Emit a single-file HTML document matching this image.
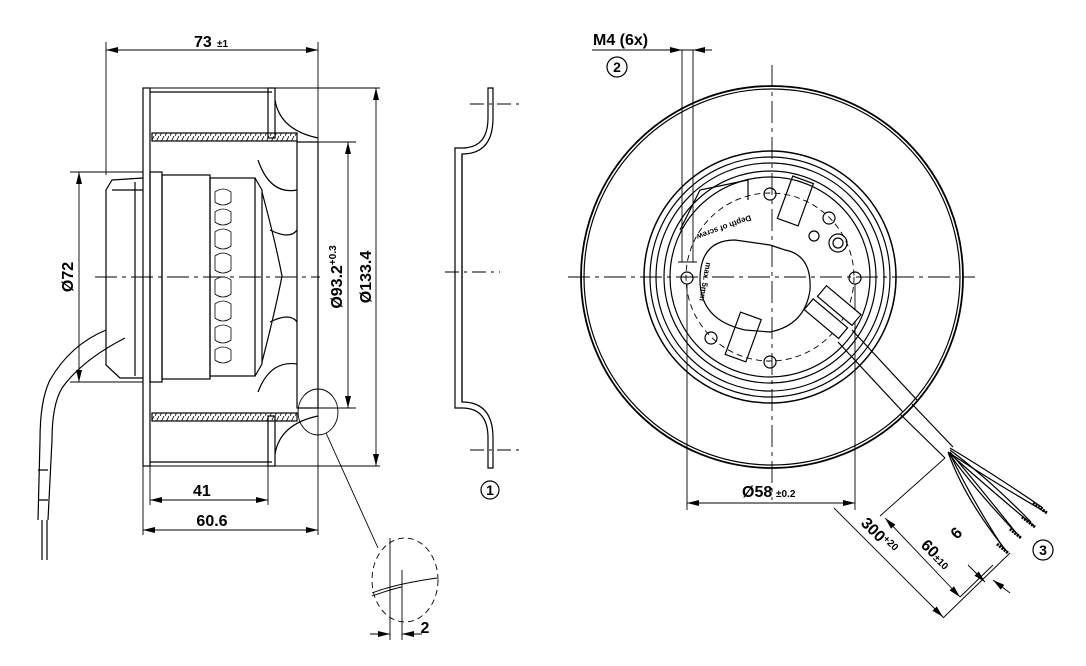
<!DOCTYPE html>
<html><head><meta charset="utf-8"><style>
html,body{margin:0;padding:0;background:#fff}
svg{display:block}
text{font-family:"Liberation Sans",sans-serif;font-weight:bold;fill:#000}
</style></head><body>
<svg width="1086" height="666" viewBox="0 0 1086 666" xmlns="http://www.w3.org/2000/svg">
<defs>
<marker id="a" markerWidth="12" markerHeight="6" refX="12" refY="3" orient="auto-start-reverse" markerUnits="userSpaceOnUse"><path d="M0,0 L12,3 L0,6 z" fill="#000"/></marker>
<pattern id="h" width="5" height="8" patternUnits="userSpaceOnUse"><line x1="0" y1="8" x2="4" y2="0" stroke="#000" stroke-width="0.8"/></pattern>
</defs>
<g stroke="#000" stroke-width="1.2" fill="none">
<!-- LEFT VIEW -->
<line x1="106" y1="42" x2="106" y2="175" stroke-width="0.9"/>
<line x1="318" y1="42" x2="318" y2="535" stroke-width="0.9"/>
<line x1="106" y1="50" x2="318" y2="50" marker-start="url(#a)" marker-end="url(#a)" stroke-width="0.9"/>
<!-- housing -->
<rect x="143" y="88" width="7" height="378"/>
<line x1="150" y1="88" x2="380" y2="88" stroke-width="0.9"/>
<line x1="150" y1="466" x2="380" y2="466" stroke-width="0.9"/>
<line x1="150" y1="92" x2="272" y2="92"/>
<line x1="150" y1="462" x2="272" y2="462"/>
<rect x="268" y="88" width="7" height="50"/>
<rect x="268" y="416" width="7" height="50"/>
<rect x="152" y="133" width="145" height="8" fill="url(#h)"/>
<rect x="152" y="413" width="145" height="8" fill="url(#h)"/>
<path d="M275,100 Q280,130 318,138"/>
<path d="M275,454 Q280,424 318,416"/>
<rect x="297" y="142" width="21" height="266"/>
<line x1="318" y1="142" x2="356" y2="142" stroke-width="0.9"/>
<line x1="318" y1="408" x2="356" y2="408" stroke-width="0.9"/>
<!-- motor -->
<rect x="150" y="172" width="12" height="210"/>
<rect x="162" y="175" width="48" height="204"/>
<rect x="210" y="178" width="45" height="198"/>
<path d="M255,178 L262,190 L262,364 L255,376"/>
<path d="M262,192 Q275,240 282,276 Q275,312 262,362"/>
<path d="M258,160 Q270,195 297,190 M258,392 Q270,360 297,364"/>
<path d="M270,230 Q290,240 297,230 M270,322 Q290,312 297,322"/>
<g stroke-width="0.8">
<path d="M215,192 q8,-6 16,0 v10 q-8,6 -16,0z M215,212 q8,-6 16,0 v10 q-8,6 -16,0z M215,232 q8,-6 16,0 v14 q-8,6 -16,0z M215,256 q8,-6 16,0 v14 q-8,6 -16,0z M215,280 q8,-6 16,0 v14 q-8,6 -16,0z M215,304 q8,-6 16,0 v14 q-8,6 -16,0z M215,328 q8,-6 16,0 v12 q-8,6 -16,0z M215,350 q8,-6 16,0 v10 q-8,6 -16,0z"/>
</g>
<path d="M143,178 L112,180 L106,190 L106,365 L120,378 L143,378"/>
<line x1="112" y1="190" x2="143" y2="190"/>
<line x1="135" y1="182" x2="135" y2="376"/>
<!-- cable left -->
<path d="M106,330 Q70,345 50,380 Q40,400 40,440 L38,520"/>
<path d="M125,338 Q82,360 62,388 Q52,405 52,440 L48,520"/>
<path d="M38,470 L48,470 M38,500 L48,500 M42,520 L42,560 M47,520 L47,560"/>
<!-- Ø72 -->
<g stroke-width="0.9">
<line x1="70" y1="172" x2="143" y2="172"/>
<line x1="70" y1="382" x2="143" y2="382"/>
<line x1="79" y1="172" x2="79" y2="382" marker-start="url(#a)" marker-end="url(#a)"/>
<line x1="348" y1="142" x2="348" y2="408" marker-start="url(#a)" marker-end="url(#a)"/>
<line x1="376" y1="88" x2="376" y2="466" marker-start="url(#a)" marker-end="url(#a)"/>
<line x1="95" y1="277" x2="320" y2="277" stroke-dasharray="22,5,4,5"/>
<line x1="150" y1="466" x2="150" y2="505"/>
<line x1="268" y1="466" x2="268" y2="505"/>
<line x1="143" y1="466" x2="143" y2="535"/>
<line x1="150" y1="500" x2="268" y2="500" marker-start="url(#a)" marker-end="url(#a)"/>
<line x1="143" y1="530" x2="318" y2="530" marker-start="url(#a)" marker-end="url(#a)"/>
<ellipse cx="318" cy="412" rx="20" ry="23"/>
<line x1="326" y1="433" x2="378" y2="548"/>
<ellipse cx="405" cy="580" rx="33" ry="42" stroke-dasharray="6,4"/>
<line x1="390" y1="538" x2="390" y2="640"/>
<line x1="402" y1="570" x2="402" y2="640"/>
<path d="M372,593 Q395,584 437,578"/>
<path d="M372,596 Q395,588 402,587"/>
<line x1="370" y1="634" x2="390" y2="634" marker-end="url(#a)"/>
<line x1="422" y1="634" x2="402" y2="634" marker-end="url(#a)"/>
</g>
<!-- profile 1 -->
<path d="M488,88 L488,118 Q488,148 462,148 L455,148 L455,408 L462,408 Q488,408 488,438 L488,468 L493,468 L493,438 Q493,402 462,402 L462,154 Q493,154 493,118 L493,88 Z"/>
<line x1="462" y1="154" x2="462" y2="402"/>
<g stroke-dasharray="14,5,3,5" stroke-width="0.9"><line x1="470" y1="104" x2="520" y2="104"/><line x1="470" y1="450" x2="520" y2="450"/><line x1="445" y1="272" x2="500" y2="272"/></g>
<circle cx="490" cy="490" r="9"/>

<!-- RIGHT VIEW -->
<circle cx="772" cy="277" r="191" stroke-width="1.8"/>
<circle cx="772" cy="277" r="188"/>
<circle cx="770" cy="277" r="126" stroke-width="1.5"/>
<circle cx="770" cy="277" r="120"/>
<circle cx="770" cy="277" r="114"/>
<circle cx="770" cy="277" r="106"/>
<circle cx="770" cy="277" r="100"/>
<circle cx="770" cy="277" r="84" stroke-dasharray="6,4" stroke-width="0.9"/>
<path d="M748,200 L748,180 L700,190 L680,230"/>
<path d="M735,240 Q700,240 700,280 Q700,320 745,330 L770,332 Q805,325 810,290 Q812,255 785,250 L770,245 Z"/>
<g transform="rotate(20 800 200)"><rect x="785" y="180" width="22" height="45"/></g>
<g transform="rotate(20 745 335)"><rect x="733" y="315" width="22" height="45"/></g>
<circle cx="770" cy="194" r="6"/><circle cx="687" cy="278" r="6"/><circle cx="855" cy="278" r="6"/><circle cx="770" cy="362" r="6"/>
<circle cx="829" cy="218" r="6"/><circle cx="711" cy="338" r="6"/>
<circle cx="838" cy="243" r="9"/><circle cx="838" cy="243" r="5"/>
<circle cx="814" cy="236" r="5"/>
<g stroke-width="0.9">
<line x1="568" y1="277" x2="975" y2="277" stroke-dasharray="22,5,4,5"/>
<line x1="772" y1="65" x2="772" y2="500" stroke-dasharray="22,5,4,5"/>
<line x1="592" y1="50" x2="712" y2="50"/>
<line x1="662" y1="50" x2="682" y2="50" marker-end="url(#a)"/>
<line x1="712" y1="50" x2="693" y2="50" marker-end="url(#a)"/>
<line x1="682" y1="50" x2="682" y2="262"/>
<line x1="693" y1="50" x2="693" y2="262"/>
<line x1="678" y1="262" x2="697" y2="262"/>
<line x1="687" y1="284" x2="687" y2="510"/>
<line x1="855" y1="284" x2="855" y2="510"/>
<line x1="687" y1="503" x2="855" y2="503" marker-start="url(#a)" marker-end="url(#a)"/>
</g>
<circle cx="617" cy="67" r="10"/>
<!-- cable -->
<g transform="rotate(40 815 320)"><rect x="800" y="305" width="45" height="14" fill="#fff"/></g>
<g transform="rotate(40 835 302)"><rect x="818" y="295" width="45" height="14" fill="#fff"/></g>
<path d="M838,342 L903,412 M852,330 L917,400"/>
<path d="M900,414 L945,458 M912,404 L953,447"/>
<path d="M948,452 Q990,480 1047,513 M948,452 Q985,485 1035,527 M948,452 Q975,490 1021,538 M948,452 Q965,500 1008,553"/>
<path d="M950,448 Q995,475 1043,508 M950,450 Q990,480 1031,522 M950,452 Q982,490 1017,534 M950,454 Q972,500 1004,549"/>
<g stroke-width="3" stroke-dasharray="2,1"><line x1="1033" y1="503" x2="1047" y2="513"/><line x1="1022" y1="517" x2="1035" y2="527"/><line x1="1010" y1="529" x2="1021" y2="538"/><line x1="997" y1="544" x2="1008" y2="553"/></g>
<g stroke-width="0.9">
<line x1="945" y1="458" x2="880" y2="516"/>
<line x1="834" y1="508" x2="943" y2="617" marker-end="url(#a)"/>
<line x1="885" y1="518" x2="960" y2="597" marker-start="url(#a)" marker-end="url(#a)"/>
<line x1="943" y1="618" x2="1010" y2="553"/>
<line x1="960" y1="597" x2="993" y2="565"/>
<line x1="968" y1="565" x2="985" y2="582" marker-end="url(#a)"/>
<line x1="1010" y1="593" x2="993" y2="580" marker-end="url(#a)"/>
</g>
<circle cx="1043" cy="550" r="10"/>
</g>
<g font-size="16">
<text x="194" y="47">73</text><text x="217" y="47" font-size="10">±1</text>
<text x="193" y="496">41</text>
<text x="212" y="526" text-anchor="middle">60.6</text>
<text x="425" y="633" text-anchor="middle">2</text>
<text transform="translate(73,277) rotate(-90)" text-anchor="middle">Ø72</text>
<text transform="translate(342,277) rotate(-90)" text-anchor="middle">Ø93.2<tspan font-size="10" dy="-6">+0.3</tspan></text>
<text transform="translate(371,277) rotate(-90)" text-anchor="middle">Ø133.4</text>
<text x="490" y="495" text-anchor="middle" font-size="14" font-weight="normal">1</text>
<text x="593" y="45">M4 (6x)</text>
<text x="617" y="72" text-anchor="middle" font-size="14" font-weight="normal">2</text>
<text x="742" y="497">Ø58</text><text x="776" y="497" font-size="10">±0.2</text>
<text x="1043" y="555" text-anchor="middle" font-size="14" font-weight="normal">3</text>
<text transform="translate(860,524) rotate(45)">300<tspan font-size="10" dy="-5">+20</tspan></text>
<text transform="translate(920,546) rotate(45)">60<tspan font-size="10">±10</tspan></text>
<text transform="translate(957,540) rotate(-45)">6</text>
</g>
<g font-size="8" font-weight="bold">
<text transform="translate(750,215) rotate(160)">Depth of screw</text>
<text transform="translate(706,262) rotate(100)">max. 5mm</text>
</g>
</svg>
</body></html>
